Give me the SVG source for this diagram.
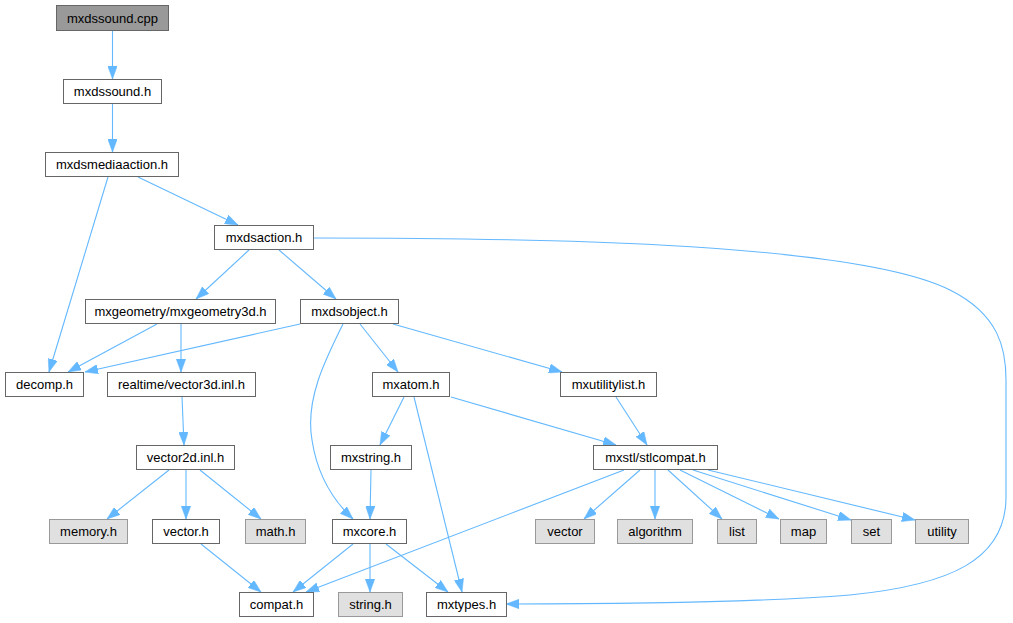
<svg xmlns="http://www.w3.org/2000/svg" width="1013" height="623" viewBox="0 0 1013 623">
<defs>
<style>
.n rect{fill:#ffffff;stroke:#666666;stroke-width:1}
.n.root rect{fill:#999999;stroke:#666666}
.n.ext rect{fill:#e0e0e0;stroke:#999999}
.n text{font-family:"Liberation Sans",Arial,Helvetica,sans-serif;font-size:13px;fill:#000000;text-anchor:middle}
#edges path{fill:none;stroke:#63b8ff;stroke-width:1.1;marker-end:url(#ah)}
</style>
<marker id="ah" viewBox="0 0 13 9.5" refX="13" refY="4.75" markerWidth="13" markerHeight="9.5" markerUnits="userSpaceOnUse" orient="auto">
<path d="M0,0 L13,4.75 L0,9.5 z" fill="#63b8ff" stroke="#63b8ff" stroke-width="0.5"/>
</marker>
</defs>
<rect width="1013" height="623" fill="#ffffff"/>
<g id="edges">
<path d="M112.5,31 L112.5,79"/>
<path d="M112.5,104 L112.5,152"/>
<path d="M108,177 L49,372"/>
<path d="M138,177 L238,225"/>
<path d="M249,250 L196,299"/>
<path d="M279,250 L336,299"/>
<path d="M314,238 C500,238 850,240 950,290 C1000,315 1006,350 1006,380 L1006,497 C1006,560 950,585 850,595 C750,603 600,604 506,604"/>
<path d="M157,324 L68,372"/>
<path d="M181,324 L181,372"/>
<path d="M300,324 L85,372"/>
<path d="M343,324 C325,360 305,400 312,440 C318,480 338,505 353,519"/>
<path d="M360,324 L398,372"/>
<path d="M393,324 L562,372"/>
<path d="M182,397 L184,445"/>
<path d="M169,470 L107,519"/>
<path d="M186,470 L186,519"/>
<path d="M200,470 L261,519"/>
<path d="M201,544 L261,592"/>
<path d="M404,397 L380,445"/>
<path d="M414,397 L462,592"/>
<path d="M451,397 L616,445"/>
<path d="M616,397 L647,445"/>
<path d="M371,470 L370,519"/>
<path d="M353,544 L293,592"/>
<path d="M370,544 L370,592"/>
<path d="M386,544 L448,592"/>
<path d="M624,470 L306,592"/>
<path d="M640,470 L584,519"/>
<path d="M655,470 L655,519"/>
<path d="M668,470 L722,519"/>
<path d="M680,470 L779,519"/>
<path d="M693,470 L851,520"/>
<path d="M708,470 L915,520"/>
</g>
<g id="mxdssound_cpp" class="n root"><rect x="56.5" y="5.5" width="112" height="25"/><text x="112.5" y="22.5">mxdssound.cpp</text></g>
<g id="mxdssound_h" class="n"><rect x="63.5" y="79.5" width="98" height="24"/><text x="112.5" y="96">mxdssound.h</text></g>
<g id="mxdsmediaaction_h" class="n"><rect x="45.5" y="152.5" width="133" height="24"/><text x="112" y="169">mxdsmediaaction.h</text></g>
<g id="mxdsaction_h" class="n"><rect x="214.5" y="225.5" width="99" height="24"/><text x="264" y="242">mxdsaction.h</text></g>
<g id="mxgeometry3d_h" class="n"><rect x="85.5" y="299.5" width="190" height="24"/><text x="180.5" y="316">mxgeometry/mxgeometry3d.h</text></g>
<g id="mxdsobject_h" class="n"><rect x="300.5" y="299.5" width="98" height="24"/><text x="349.5" y="316">mxdsobject.h</text></g>
<g id="decomp_h" class="n"><rect x="5.5" y="372.5" width="78" height="24"/><text x="44.5" y="389">decomp.h</text></g>
<g id="vector3d_inl_h" class="n"><rect x="107.5" y="372.5" width="148" height="24"/><text x="181.5" y="389">realtime/vector3d.inl.h</text></g>
<g id="mxatom_h" class="n"><rect x="372.5" y="372.5" width="77" height="24"/><text x="411" y="389">mxatom.h</text></g>
<g id="mxutilitylist_h" class="n"><rect x="560.5" y="372.5" width="96" height="24"/><text x="608.5" y="389">mxutilitylist.h</text></g>
<g id="vector2d_inl_h" class="n"><rect x="136.5" y="445.5" width="98" height="24"/><text x="185.5" y="462">vector2d.inl.h</text></g>
<g id="mxstring_h" class="n"><rect x="330.5" y="445.5" width="81" height="24"/><text x="371" y="462">mxstring.h</text></g>
<g id="stlcompat_h" class="n"><rect x="593.5" y="445.5" width="124" height="24"/><text x="655.5" y="462">mxstl/stlcompat.h</text></g>
<g id="memory_h" class="n ext"><rect x="49.5" y="519.5" width="78" height="24"/><text x="88.5" y="536">memory.h</text></g>
<g id="vector_h" class="n"><rect x="152.5" y="519.5" width="67" height="24"/><text x="186" y="536">vector.h</text></g>
<g id="math_h" class="n ext"><rect x="245.5" y="519.5" width="60" height="24"/><text x="275.5" y="536">math.h</text></g>
<g id="mxcore_h" class="n"><rect x="332.5" y="519.5" width="74" height="24"/><text x="369.5" y="536">mxcore.h</text></g>
<g id="vector" class="n ext"><rect x="535.5" y="519.5" width="59" height="24"/><text x="565" y="536">vector</text></g>
<g id="algorithm" class="n ext"><rect x="617.5" y="519.5" width="75" height="24"/><text x="655" y="536">algorithm</text></g>
<g id="list" class="n ext"><rect x="717.5" y="519.5" width="39" height="24"/><text x="737" y="536">list</text></g>
<g id="map" class="n ext"><rect x="780.5" y="519.5" width="46" height="24"/><text x="803.5" y="536">map</text></g>
<g id="set" class="n ext"><rect x="851.5" y="519.5" width="40" height="24"/><text x="871.5" y="536">set</text></g>
<g id="utility" class="n ext"><rect x="915.5" y="519.5" width="53" height="24"/><text x="942" y="536">utility</text></g>
<g id="compat_h" class="n"><rect x="239.5" y="592.5" width="74" height="24"/><text x="276.5" y="609">compat.h</text></g>
<g id="string_h" class="n ext"><rect x="338.5" y="592.5" width="64" height="24"/><text x="370.5" y="609">string.h</text></g>
<g id="mxtypes_h" class="n"><rect x="426.5" y="592.5" width="80" height="24"/><text x="466.5" y="609">mxtypes.h</text></g>
</svg>
